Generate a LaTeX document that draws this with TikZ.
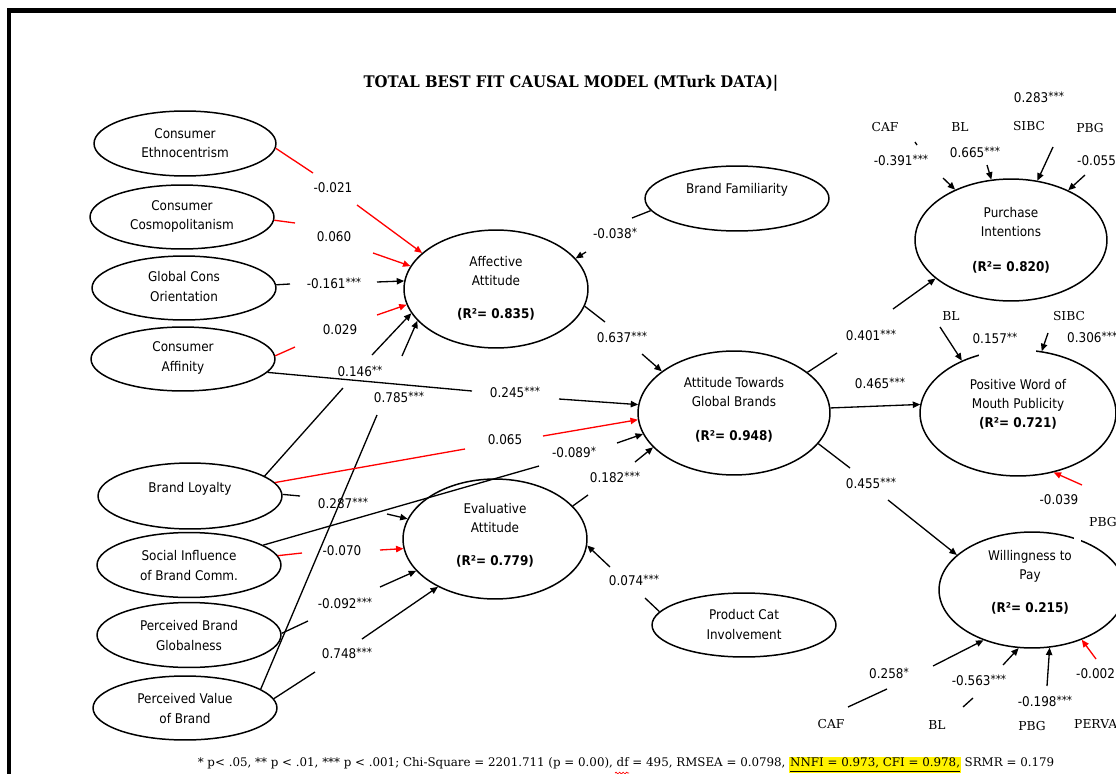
\documentclass[tikz,border=0pt]{standalone}
\usepackage{fontspec}
\setmainfont{DejaVu Sans}[FakeStretch=0.9]
\newfontfamily\serifvar{DejaVu Serif}
\newfontfamily\titleface{DejaVu Serif}[FakeStretch=0.93]
\usetikzlibrary{shapes.geometric,arrows.meta,decorations.pathmorphing}
\newcommand\hlbox[1]{{\setlength{\fboxsep}{0.5pt}\colorbox{yellow}{\underline{#1}}}}
\newcommand\sig[1]{\raisebox{0.25ex}{\fontsize{6.6}{6.6}\selectfont#1}}

\begin{document}
\begin{tikzpicture}[x=0.02cm,y=-0.02cm,
  latent/.style 2 args={ellipse,draw,line width=0.85pt,minimum width=#1*0.04cm,minimum height=#2*0.04cm,inner sep=0pt},
  ltext/.style={font=\fontsize{7.6}{11}\selectfont,align=center,inner sep=0pt},
  btext/.style={font=\fontsize{7.6}{10.8}\selectfont,align=center,inner sep=0pt},
  num/.style={font=\fontsize{7.6}{9}\selectfont,inner sep=0.5pt},
  var/.style={font=\serifvar\fontsize{7}{9}\selectfont,inner sep=0.5pt},
  lnk/.style={line width=0.75pt},
  arr/.style={line width=0.75pt,-{Triangle[length=4.2pt,width=3.6pt]}},
]
\useasboundingbox (0,0) rectangle (1116,774);
\clip (0,0) rectangle (1116,774);

% page frame
\draw[line width=2.6pt] (9.2,790) -- (9.2,10.5) -- (1130,10.5);

% title
\node[font=\titleface\bfseries\fontsize{9.1}{11}\selectfont,inner sep=0pt] (title) at (571,83) {TOTAL BEST FIT CAUSAL MODEL (MTurk DATA)|};

% exogenous constructs
\node[latent={91}{32.5}] (CE)   at (185,143.5) {};
\node[latent={92}{32}]   (CC)   at (182,217) {};
\node[latent={92}{32}]   (GCO)  at (184,288) {};
\node[latent={92}{32}]   (CAF)  at (183,359) {};
\node[latent={92}{33}]   (BL)   at (190,496) {};
\node[latent={92}{32.5}] (SIBC) at (189,565) {};
\node[latent={92}{32.5}] (PBG)  at (189,635) {};
\node[latent={92}{32}]   (PVB)  at (185,708) {};
\node[latent={92}{32.5}] (BF)   at (737,198.5) {};
\node[latent={92}{32}]   (PCI)  at (744,625) {};

% endogenous constructs
\node[latent={92}{59}]   (AA)   at (496,289) {};
\node[latent={96}{62}]   (ATGB) at (734,413) {};
\node[latent={92}{60}]   (EA)   at (495,539) {};
\node[latent={96}{61}]   (PI)   at (1011,240) {};
\node[latent={98}{63}]   (PWOM) at (1018,413) {};
\node[latent={93}{58}]   (WTP)  at (1032,590) {};

% openings in the outlines left by the label boxes
\fill[white] (979,338) rectangle (1036,361);
\fill[white] (1074,524) rectangle (1081,546);

% construct names
\node[ltext] (CEt)   at (185,143)   {Consumer\\Ethnocentrism};
\node[ltext] (CCt)   at (182,216.5) {Consumer\\Cosmopolitanism};
\node[ltext] (GCOt)  at (184,286.5) {Global Cons\\Orientation};
\node[ltext] (CAFt)  at (183,358)   {Consumer\\Affinity};
\node[ltext] (BLt)   at (190,489)   {Brand Loyalty};
\node[ltext] (SIBCt) at (189,565.5) {Social Influence\\of Brand Comm.};
\node[ltext] (PBGt)  at (189,635.5) {Perceived Brand\\Globalness};
\node[ltext] (PVBt)  at (185,708.5) {Perceived Value\\of Brand};
\node[ltext] (BFt)   at (737,190)   {Brand Familiarity};
\node[ltext] (PCIt)  at (744,624.5) {Product Cat\\Involvement};
\node[btext] (AAt)   at (496,288)   {Affective\\Attitude\\[8pt]\textbf{(R²= 0.835)}};
\node[btext] (ATGBt) at (734,410)   {Attitude Towards\\Global Brands\\[8.5pt]\textbf{(R²= 0.948)}};
\node[btext] (EAt)   at (495,535)   {Evaluative\\Attitude\\[8pt]\textbf{(R²= 0.779)}};
\node[btext] (PIt)   at (1011,240)  {Purchase\\Intentions\\[9pt]\textbf{(R²= 0.820)}};
\node[btext] (PWOMt) at (1018,404)  {Positive Word of\\Mouth Publicity\\\textbf{(R²= 0.721)}};
\node[btext] (WTPt)  at (1030,582)  {Willingness to\\Pay\\[8pt]\textbf{(R²= 0.215)}};

% break points of the split paths
\coordinate (p1a) at (313,173);  \coordinate (p1b) at (357,205);
\coordinate (p2a) at (295,223);  \coordinate (p2b) at (373,253);
\coordinate (p3a) at (290,284);  \coordinate (p3b) at (377,282);
\coordinate (p4a) at (295,347);  \coordinate (p4b) at (377,315);
\coordinate (p5a) at (343,388);  \coordinate (p5b) at (372,355);
\coordinate (p6a) at (377,415);  \coordinate (p6b) at (402,356);
\coordinate (p7a) at (472,391);  \coordinate (p7b) at (559,399);
\coordinate (p8a) at (465,449);  \coordinate (p8b) at (543,436);
\coordinate (p9a) at (539,466);  \coordinate (p9b) at (617,443);
\coordinate (p10a) at (588,495); \coordinate (p10b) at (635,462);
\coordinate (p11a) at (605,322); \coordinate (p11b) at (642,354);
\coordinate (p12a) at (632,218); \coordinate (p12b) at (586,252);
\coordinate (p13a) at (300,496); \coordinate (p13b) at (387,514);
\coordinate (p14a) at (302,553); \coordinate (p14b) at (380,550);
\coordinate (p15a) at (308,621); \coordinate (p15b) at (380,587);
\coordinate (p16a) at (315,672); \coordinate (p16b) at (362,639);
\coordinate (p17a) at (645,598); \coordinate (p17b) at (610,567);
\coordinate (p18a) at (837,353); \coordinate (p18b) at (893,309);
\coordinate (p20a) at (850,468); \coordinate (p20b) at (888,500);

% paths into Affective Attitude
\draw[lnk,red] (CE.-3) -- (p1a);   \draw[arr,red] (p1b) -- (AA.154);
\draw[lnk,red] (CC.-2) -- (p2a);   \draw[arr,red] (p2b) -- (AA.165);
\draw[lnk] (GCO.2) -- (p3a);       \draw[arr] (p3b) -- (AA.175);
\draw[lnk,red] (CAF.2.5) -- (p4a); \draw[arr,red] (p4b) -- (AA.190);
\draw[lnk] (BL.15) -- (p5a);       \draw[arr] (p5b) -- (AA.196.5);
\draw[lnk] (PVB.14.5) -- (p6a);    \draw[arr] (p6b) -- (AA.202.7);
\draw[lnk] (BF.188.8) -- (p12a);   \draw[arr] (p12b) -- (AA.21.3);

% paths into Attitude Towards Global Brands
\draw[lnk] (CAF.-9) -- (p7a);      \draw[arr] (p7b) -- (ATGB.175.8);
\draw[lnk,red] (BL.9.7) -- (p8a);  \draw[arr,red] (p8b) -- (ATGB.184.2);
\draw[lnk] (SIBC.15.2) -- (p9a);   \draw[arr] (p9b) -- (ATGB.193.7);
\draw[lnk] (EA.23.6) -- (p10a);    \draw[arr] (p10b) -- (ATGB.203.8);
\draw[lnk] (AA.-11.4) -- (p11a);   \draw[arr] (p11b) -- (ATGB.150);

% paths into Evaluative Attitude
\draw[lnk] (BL.1.9) -- (p13a);     \draw[arr] (p13b) -- (EA.167.7);
\draw[lnk,red] (SIBC.6.7) -- (p14a); \draw[arr,red] (p14b) -- (EA.186.6);
\draw[lnk] (PBG.1.8) -- (p15a);    \draw[arr] (p15b) -- (EA.202.5);
\draw[lnk] (PVB.6.2) -- (p16a);    \draw[arr] (p16b) -- (EA.220);
\draw[lnk] (PCI.171.4) -- (p17a);  \draw[arr] (p17b) -- (EA.356.2);

% outcome paths
\draw[lnk] (ATGB.29) -- (p18a);    \draw[arr] (p18b) -- (PI.207.4);
\draw[arr] (ATGB.3) -- (PWOM.175.4);
\draw[lnk] (ATGB.-20.4) -- (p20a); \draw[arr] (p20b) -- (WTP.155.1);

% coefficients, left and centre
\node[num] (c1)  at (333,188) {-0.021};
\node[num] (c2)  at (334,237) {0.060};
\node[num] (c3)  at (334,283) {-0.161\sig{***}};
\node[num] (c4)  at (340,330) {0.029};
\node[num] (c5)  at (360,371) {0.146\sig{**}};
\node[num] (c6)  at (399,397) {0.785\sig{***}};
\node[num] (c7)  at (515,392) {0.245\sig{***}};
\node[num] (c8)  at (505,440) {0.065};
\node[num] (c9)  at (574,452) {-0.089\sig{*}};
\node[num] (c10) at (615,477) {0.182\sig{***}};
\node[num] (c11) at (622,337) {0.637\sig{***}};
\node[num] (c12) at (615,233) {-0.038\sig{*}};
\node[num] (c13) at (343,503) {0.287\sig{***}};
\node[num] (c14) at (342,551) {-0.070};
\node[num] (c15) at (345,603) {-0.092\sig{***}};
\node[num] (c16) at (347,653) {0.748\sig{***}};
\node[num] (c17) at (634,580) {0.074\sig{***}};
\node[num] (c18) at (871,335) {0.401\sig{***}};
\node[num] (c19) at (880,383) {0.465\sig{***}};
\node[num] (c20) at (871,483) {0.455\sig{***}};

% Purchase Intentions: covariate paths
\node[var] (vCAF1)  at (885,127)  {CAF};
\node[var] (vBL1)   at (960,127)  {BL};
\node[var] (vSIBC1) at (1029,126) {SIBC};
\node[var] (vPBG1)  at (1090,128) {PBG};
\node[num] (d1) at (1039,97)  {0.283\sig{***}};
\node[num] (d2) at (901,160)  {-0.391\sig{***}};
\node[num] (d3) at (975,152)  {0.665\sig{***}};
\node[num,anchor=west] (d4) at (1076,161) {-0.055};
\coordinate (q1a) at (915,142); \coordinate (q1b) at (917,145); \coordinate (q1c) at (943,178);
\coordinate (q2) at (987,165);
\coordinate (q3) at (1053,147);
\coordinate (q4) at (1085,175);
\draw[lnk] (q1a) -- (q1b);
\draw[arr] (q1c) -- (PI.138.4);
\draw[arr] (q2) -- (PI.108.4);
\draw[arr] (q3) -- (PI.66.6);
\draw[arr] (q4) -- (PI.41.6);

% Positive Word of Mouth: covariate paths
\node[var] (vBL2)   at (951,316)  {BL};
\node[var] (vSIBC2) at (1069,316) {SIBC};
\node[var,anchor=west] (vPBG2) at (1088,522) {PBG};
\node[num] (e1) at (995,338) {0.157\sig{**}};
\node[num,anchor=west] (e2) at (1066,337) {0.306\sig{***}};
\node[num] (e3) at (1059,500) {-0.039};
\coordinate (r1) at (940,327);
\coordinate (r2) at (1048,333);
\coordinate (r3) at (1082,485);
\draw[arr] (r1) -- (PWOM.137.7);
\draw[arr] (r2) -- (PWOM.69.1);
\draw[arr,red] (r3) -- (PWOM.301.4);

% Willingness to Pay: covariate paths
\node[var] (vCAF3) at (831,724)  {CAF};
\node[var] (vBL3)  at (937,725)  {BL};
\node[var] (vPBG3) at (1032,726) {PBG};
\node[var,anchor=west] (vPERVA) at (1073,724) {PERVA};
\node[num] (f1) at (889,673)  {0.258\sig{*}};
\node[num] (f2) at (979,680)  {-0.563\sig{***}};
\node[num] (f3) at (1045,701) {-0.198\sig{***}};
\node[num,anchor=west] (f4) at (1075,674) {-0.002};
\coordinate (s1a) at (848,707); \coordinate (s1b) at (887,689); \coordinate (s1c) at (933,666);
\coordinate (s2a) at (963,707); \coordinate (s2b) at (973,698); \coordinate (s2c) at (1003,665);
\coordinate (s3) at (1047,686);
\coordinate (s4) at (1096,659);
\draw[lnk] (s1a) -- (s1b); \draw[arr] (s1c) -- (WTP.226);
\draw[lnk] (s2a) -- (s2b); \draw[arr] (s2c) -- (WTP.257);
\draw[arr] (s3) -- (WTP.287.3);
\draw[arr,red] (s4) -- (WTP.315.6);

% fit statistics
\node[font=\serifvar\fontsize{6.75}{8}\selectfont,inner sep=0pt] (foot) at (626,765)
  {* p< .05, ** p < .01, *** p < .001; Chi-Square = 2201.711 (p = 0.00), df = 495, RMSEA = 0.0798, \hlbox{NNFI = 0.973, CFI = 0.978,} SRMR = 0.179};
\coordinate (sq1) at (615,773); \coordinate (sq2) at (629,773);
\draw[red,line width=0.4pt,decorate,decoration={snake,amplitude=0.5pt,segment length=2pt}] (sq1) -- (sq2);
\end{tikzpicture}
\end{document}
